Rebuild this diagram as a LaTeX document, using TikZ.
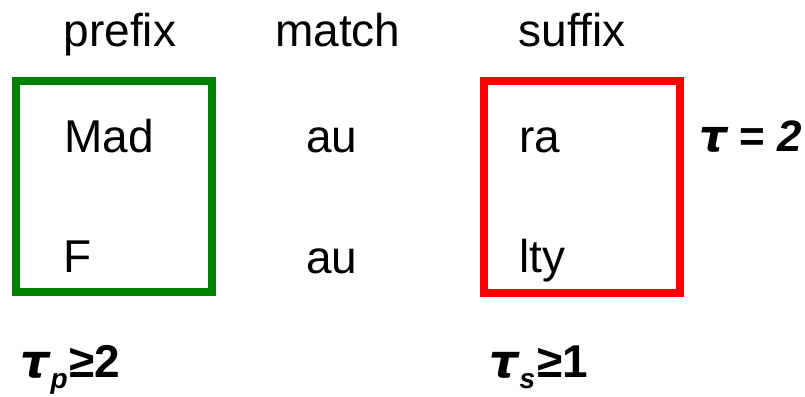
\documentclass[tikz,border=0pt]{standalone}
\usepackage{fontspec}
\setmainfont{Liberation Sans}
\newfontfamily\taufont{DejaVu Sans}
\definecolor{boxgreen}{HTML}{008000}
\definecolor{boxred}{HTML}{FF0000}
\newcommand{\mytau}{{\taufont\bfseries\itshape τ}}
\begin{document}
\begin{tikzpicture}[x=1bp,y=-1bp,
  lbl/.style={anchor=base west,inner sep=0pt,font=\fontsize{46bp}{55bp}\selectfont},
  frame/.style={draw,line width=8bp,minimum width=196bp,inner sep=0pt,rectangle}]
\useasboundingbox (0,0) rectangle (805,396);
\node[frame,draw=boxgreen,minimum height=211bp] (pbox) at (114,186.5) {};
\node[frame,draw=boxred,minimum height=212bp] (sbox) at (582,186.5) {};
\node[lbl] (hp) at (63.5,46) {prefix};
\node[lbl] (hm) at (275,46) {match};
\node[lbl] (hs) at (518.5,46) {suffix};
\node[lbl] (p1) at (64,152) {Mad};
\node[lbl] (p2) at (63,272) {F};
\node[lbl] (m1) at (306,152) {au};
\node[lbl] (m2) at (306,273) {au};
\node[lbl] (s1) at (519,152) {ra};
\node[lbl] (s2) at (519,272) {lty};
\node[lbl,font=\fontsize{44bp}{55bp}\selectfont\bfseries\itshape] (tau) at (699,151) {\mytau{} {\upshape =} 2};
\node[lbl,font=\fontsize{46bp}{55bp}\selectfont\bfseries] (tp) at (20,377)
  {\mytau\hspace{1bp}\raisebox{-0.24em}{\fontsize{28bp}{28bp}\selectfont\itshape p}\hspace{2bp}≥2};
\node[lbl,font=\fontsize{46bp}{55bp}\selectfont\bfseries] (ts) at (489,377)
  {\mytau\hspace{1bp}\raisebox{-0.24em}{\fontsize{28bp}{28bp}\selectfont\itshape s}\hspace{2bp}≥1};
\end{tikzpicture}
\end{document}
